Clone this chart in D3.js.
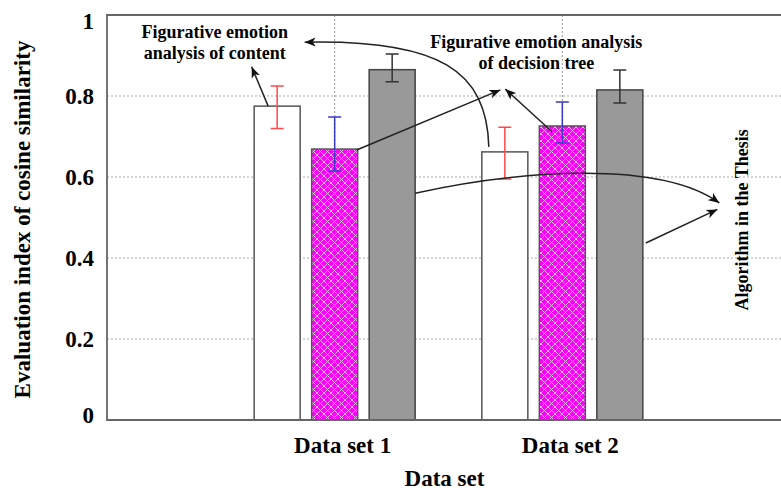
<!DOCTYPE html>
<html>
<head>
<meta charset="utf-8">
<script src="https://cdn.jsdelivr.net/npm/d3@7"></script>
<style>
  body { margin: 0; background: #fff; }
  svg { display: block; font-family: "Liberation Serif", "Times New Roman", serif; font-weight: bold; }
</style>
</head>
<body>
<div id="chart"></div>
<script>
// data
var categories = ["Data set 1", "Data set 2"];
var seriesNames = ["Figurative emotion analysis of content",
                   "Figurative emotion analysis of decision tree",
                   "Algorithm in the Thesis"];
var contentValues = [0.775, 0.662];
var contentLow = [0.72, 0.595];
var contentHigh = [0.825, 0.723];
var treeValues = [0.669, 0.726];
var treeLow = [0.615, 0.684];
var treeHigh = [0.748, 0.785];
var algoValues = [0.865, 0.815];
var algoLow = [0.835, 0.783];
var algoHigh = [0.904, 0.864];
var yTicks = [0, 0.2, 0.4, 0.6, 0.8, 1];
var yTickLabels = ["0", "0.2", "0.4", "0.6", "0.8", "1"];

var series = [
    {name: seriesNames[0], values: contentValues, low: contentLow, high: contentHigh},
    {name: seriesNames[1], values: treeValues, low: treeLow, high: treeHigh},
    {name: seriesNames[2], values: algoValues, low: algoLow, high: algoHigh}
];

// margins
var margin = {top: 15, right: -9, bottom: 70, left: 107},
    W = 781, H = 490,
    width = W - margin.left - margin.right,
    height = H - margin.top - margin.bottom;

var svg = d3.select("#chart").append("svg")
    .attr("width", W)
    .attr("height", H);

var defs = svg.append("defs");

// cross hatch for the decision tree bars
var pat = defs.append("pattern")
    .attr("id", "hatch")
    .attr("patternUnits", "userSpaceOnUse")
    .attr("width", 7)
    .attr("height", 7);
pat.append("rect").attr("width", 7).attr("height", 7).attr("fill", "#ff00ff");
pat.append("path")
    .attr("d", "M0,0L7,7M7,0L0,7M-1,6L1,8M6,-1L8,1M-1,1L1,-1M6,8L8,6")
    .attr("stroke", "#f2b6f2")
    .attr("stroke-width", 1);

defs.append("marker")
    .attr("id", "head")
    .attr("markerUnits", "userSpaceOnUse")
    .attr("viewBox", "0 -5 12 10")
    .attr("refX", 11)
    .attr("refY", 0)
    .attr("markerWidth", 12)
    .attr("markerHeight", 10)
    .attr("orient", "auto")
    .append("path")
    .attr("d", "M0,-4.5L11,0L0,4.5L3,0Z")
    .attr("fill", "#111");

var g = svg.append("g")
    .attr("transform", "translate(" + margin.left + "," + margin.top + ")");

// scales
var x = d3.scalePoint()
    .domain(categories)
    .range([0, width])
    .padding(1);

var xs = d3.scaleBand()
    .domain(seriesNames)
    .range([-80.5, 80.5])
    .paddingInner(0.2);

var y = d3.scaleLinear()
    .domain([0, 1])
    .range([height, 0]);

// grid
g.append("g")
    .selectAll("line")
    .data(yTicks.slice(1, -1))
    .enter()
    .append("line")
    .attr("x1", 0)
    .attr("x2", width)
    .attr("y1", function(d) { return y(d); })
    .attr("y2", function(d) { return y(d); })
    .attr("stroke", "#aaa")
    .attr("stroke-width", 1.2)
    .style("stroke-dasharray", "2,2");

g.append("g")
    .selectAll("line")
    .data(categories)
    .enter()
    .append("line")
    .attr("x1", function(d) { return x(d); })
    .attr("x2", function(d) { return x(d); })
    .attr("y1", 0)
    .attr("y2", height)
    .attr("stroke", "#aaa")
    .attr("stroke-width", 1.2)
    .style("stroke-dasharray", "2,2");

// bars
var fills = ["#fff", "url(#hatch)", "#999"];
var strokes = ["#555", "#555", "#444"];
var errColors = ["#ff4a4a", "#3a3ac8", "#333"];

series.forEach(function(s, si) {
    var grp = g.append("g");
    grp.selectAll("rect")
        .data(categories)
        .enter()
        .append("rect")
        .attr("x", function(c) { return x(c) + xs(s.name); })
        .attr("width", xs.bandwidth())
        .attr("y", function(c, i) { return y(s.values[i]); })
        .attr("height", function(c, i) { return y(0) - y(s.values[i]); })
        .attr("fill", fills[si])
        .attr("stroke", strokes[si])
        .attr("stroke-width", 1.5);

    // error bars
    var cap = 6.5;
    categories.forEach(function(c, i) {
        var cx = x(c) + xs(s.name) + xs.bandwidth() / 2;
        var p = d3.path();
        p.moveTo(cx, y(s.low[i])); p.lineTo(cx, y(s.high[i]));
        p.moveTo(cx - cap, y(s.low[i])); p.lineTo(cx + cap, y(s.low[i]));
        p.moveTo(cx - cap, y(s.high[i])); p.lineTo(cx + cap, y(s.high[i]));
        grp.append("path")
            .attr("d", p.toString())
            .attr("fill", "none")
            .attr("stroke", errColors[si])
            .attr("stroke-width", 1.5);
    });
});

// frame: left, top, bottom
g.append("path")
    .attr("d", "M" + width + ",0H0V" + height + "H" + width)
    .attr("fill", "none")
    .attr("stroke", "#666")
    .attr("stroke-width", 1.8);

// y tick labels
g.append("g")
    .selectAll("text")
    .data(yTicks)
    .enter()
    .append("text")
    .attr("x", -13)
    .attr("y", function(d) { return y(d); })
    .attr("dy", function(d) { return d === 1 ? "0.62em" : d === 0 ? "0.15em" : "0.35em"; })
    .attr("text-anchor", "end")
    .style("font-size", "23px")
    .text(function(d, i) { return yTickLabels[i]; });

// x tick labels
g.append("g")
    .selectAll("text")
    .data(categories)
    .enter()
    .append("text")
    .attr("x", function(d) { return x(d) + 8; })
    .attr("y", height + 33)
    .attr("text-anchor", "middle")
    .style("font-size", "23px")
    .text(function(d) { return d; });

// axis titles
g.append("text")
    .attr("x", d3.mean(categories, function(d) { return x(d); }) - 4)
    .attr("y", height + 66)
    .attr("text-anchor", "middle")
    .style("font-size", "23px")
    .text("Data set");

g.append("text")
    .attr("transform", "translate(" + (-margin.left + 30) + "," + (y(0.5) + 2) + ") rotate(-90)")
    .attr("text-anchor", "middle")
    .style("font-size", "23px")
    .text("Evaluation index of cosine similarity");

// annotations
function barX(ci, si) { return x(categories[ci]) + xs(seriesNames[si]); }
function barTop(ci, si) { return y(series[si].values[ci]); }

var c1 = x(categories[0]), c2 = x(categories[1]);

var note1 = g.append("text")
    .attr("text-anchor", "middle")
    .style("font-size", "18px");
note1.append("tspan").attr("x", c1 - 120).attr("y", y(0.943)).text("Figurative emotion");
note1.append("tspan").attr("x", c1 - 120).attr("y", y(0.891)).text("analysis of content");

var note2 = g.append("text")
    .attr("text-anchor", "middle")
    .style("font-size", "18px");
note2.append("tspan").attr("x", c2 - 26).attr("y", y(0.918)).text("Figurative emotion analysis");
note2.append("tspan").attr("x", c2 - 26).attr("y", y(0.866)).text("of decision tree");

g.append("text")
    .attr("transform", "translate(" + (c2 + 186) + "," + y(0.494) + ") rotate(-90)")
    .attr("text-anchor", "middle")
    .style("font-size", "18px")
    .text("Algorithm in the Thesis");

function arrow(d) {
    g.append("path")
        .attr("d", d)
        .attr("fill", "none")
        .attr("stroke", "#222")
        .attr("stroke-width", 1.5)
        .attr("marker-end", "url(#head)");
}

// content bars -> their label
var p1 = d3.path();
p1.moveTo(barX(0, 0) + 14, barTop(0, 0));
p1.lineTo(c1 - 83, y(0.872));
arrow(p1.toString());

var p2 = d3.path();
p2.moveTo(barX(1, 0) + 7, barTop(1, 0) - 5);
p2.bezierCurveTo(barX(1, 0) + 5, y(0.862), c1 + 105, y(0.94), c1 - 30, y(0.933));
arrow(p2.toString());

// decision tree bars -> their label
var p3 = d3.path();
p3.moveTo(barX(0, 1) + xs.bandwidth() - 1, barTop(0, 1) + 1);
p3.lineTo(c2 - 62, y(0.815));
arrow(p3.toString());

var p4 = d3.path();
p4.moveTo(barX(1, 1) + 13, barTop(1, 1) + 6);
p4.lineTo(c2 - 57, y(0.817));
arrow(p4.toString());

// algorithm bars -> their label
var p5 = d3.path();
p5.moveTo(barX(0, 2) + xs.bandwidth(), y(0.56));
p5.bezierCurveTo(c1 + 185, y(0.617), c2 + 97, y(0.642), c2 + 157, y(0.536));
arrow(p5.toString());

var p6 = d3.path();
p6.moveTo(barX(1, 2) + xs.bandwidth() + 3, y(0.437));
p6.lineTo(c2 + 155, y(0.52));
arrow(p6.toString());
</script>
</body>
</html>
